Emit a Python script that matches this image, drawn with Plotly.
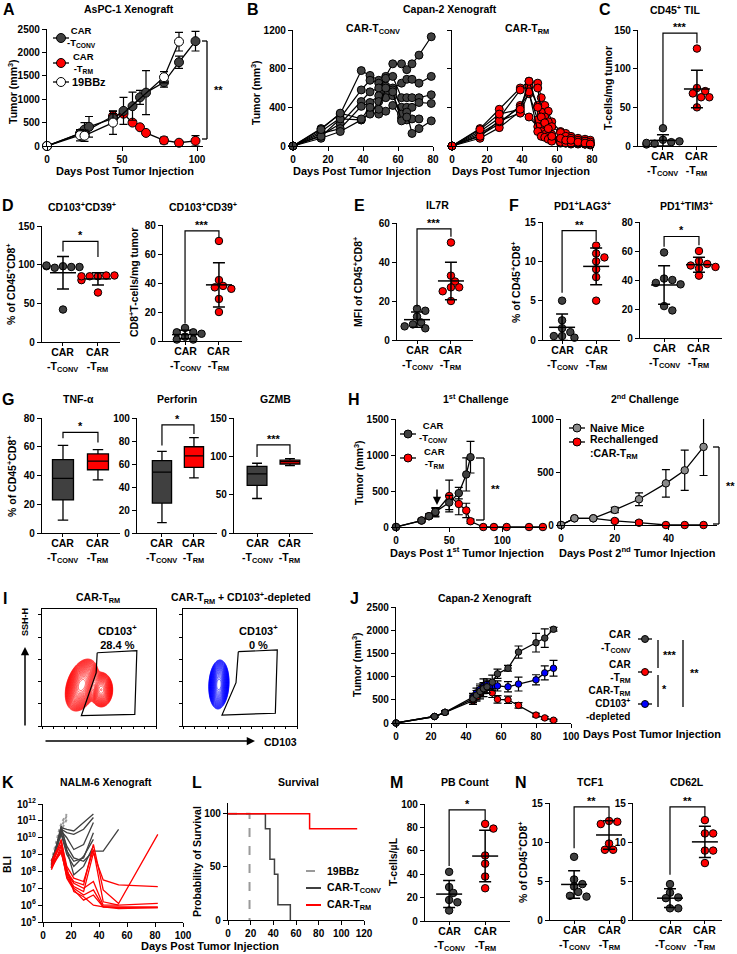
"""CAR-T multi-panel figure rebuilt in plotly.

Every panel is a pair of hand-placed axes (pixel boxes -> paper domains);
legends, brackets and labels are paper-space shapes/annotations.
"""
import numpy as np
import plotly.graph_objects as go

W, H = 737, 954
FONT = "Liberation Sans, Arial, sans-serif"
DARK = "#404040"
RED = "#ff0000"
GRAY = "#8a8a8a"
BLUE = "#0000ff"
CATS = ["CAR<br>-T<sub>CONV</sub>", "CAR<br>-T<sub>RM</sub>"]
MM3 = "Tumor (mm<sup>3</sup>)"
PCT = "% of CD45<sup>+</sup>CD8<sup>+</sup>"

# ---------------- A: AsPC-1 xenograft (mean +/- SEM)
A_DAYS_CONV = [0, 22, 25, 28, 44, 51, 57, 62, 66, 78, 88, 99]
A_CONV = [0, 270, 350, 410, 590, 750, 850, 1040, 1140, 1360, 1790, 2240]
A_CONV_ERR = [0, 60, 150, 220, 100, 290, 300, 150, 470, 100, 130, 210]
A_DAYS_TRM = [0, 22, 25, 44, 51, 57, 62, 66, 78, 88, 99]
A_TRM = [0, 250, 300, 640, 690, 500, 400, 280, 120, 70, 110]
A_TRM_ERR = [0, 50, 80, 100, 60, 40, 40, 40, 70, 40, 110]
A_DAYS_19 = [0, 22, 25, 44, 78, 88]
A_19 = [0, 230, 220, 500, 1470, 2230]
A_19_ERR = [0, 120, 120, 250, 120, 200]

# ---------------- B: Capan-2 individual mice
B_DAYS_CONV = [0, 16, 27, 39, 44, 49, 53, 57, 62, 65, 68, 72, 79]
B_CONV = [
    [0, 180, 330, 780, 730, 680, 720, 850, 850, 790, 850, 940, 1130],
    [0, 150, 290, 580, 680, 650, 620, 600, 650, 690, 690, 650, 720],
    [0, 110, 230, 460, 560, 600, 700, 720, 500, 500, 500, 500, 530],
    [0, 130, 180, 410, 450, 520, 560, 580, 400, 400, 400, 450, 440],
    [0, 80, 150, 270, 350, 330, 360, 420, 290, 270, 280, 280, None],
    [0, 100, 280, 270, 330, 460, 500, 520, 330, 350, 130, 180, 260],
    [0, 170, 340, 280, 400, 380, 600, 560, 260, 300, None, None, None],
]
B_DAYS_TRM = [0, 16, 27, 39, 44, 49, 51, 53, 55, 57, 62, 65, 68, 72, 76, 79]
B_TRM = [
    [0, 180, 380, 600, 670, 650, 500, 420, 360, 250, 150, 130, 100, 80, 70, 60],
    [0, 150, 290, 580, 620, 420, 330, 280, 200, 120, 80, 60, 50, 40, 50, 30],
    [0, 110, 230, 420, 540, 270, 200, 150, 110, 90, 50, 40, 40, 30, 20, 20],
    [0, 80, 190, 360, 300, 200, 150, 120, 100, 60, 30, 30, 20, 20, 20, 10],
    [0, 130, 250, 400, 620, 600, 350, 300, 250, 200, 140, 100, 80, 60, 50, 40],
    [0, 100, 260, 340, 560, 150, 100, 90, 70, 50, 40, 30, 30, 30, 20, 20],
    [0, 170, 330, 380, 670, 400, 300, 240, 180, 100, 80, 60, 60, 40, 30, 20],
]

# ---------------- C-F, M, N: per-mouse values [CONV, TRM]
C_TIL = ([23, 8, 5, 3, 6, 2, 4], [126, 75, 71, 68, 63, 63, 50])
D_PCT = ([98, 97, 96, 97, 98, 99, 42], [85, 86, 85, 86, 80, 64, 85])
D_ABS = ([9, 6, 6, 5, 3, 1, 1], [69, 42, 38, 37, 36, 29, 20])
E_IL7R = ([16, 15, 12, 9, 8, 6, 7], [50, 33, 30, 27, 27, 25, 20])
F_LAG3 = ([5, 2.5, 1.5, 1, 0.5, 0.5, 0.3], [12, 11, 10.5, 10, 9, 8, 5])
F_TIM3 = ([59, 41, 40, 38, 37, 22, 19], [60, 53, 51, 50, 49, 48, 43])
M_PB = ([42, 29, 24, 18, 16, 9], [83, 79, 56, 49, 38, 28])
N_TCF1 = ([8.1, 5.2, 4.6, 4.3, 3.6, 3.1, 3.0], [12.7, 12.6, 12.3, 9.8, 9.0, 9.0])
N_CD62L = ([4.6, 3.5, 2.9, 2.8, 1.5, 1.5], [12.8, 11.1, 11.1, 8.9, 8.9, 7.3])

# ---------------- G: box stats (min, q1, median, q3, max)
G_TNF = ([9, 23, 38, 51, 61], [37, 44, 50, 55, 58])
G_PERF = ([9, 26, 53, 63, 71], [48, 57, 67, 75, 83])
G_GZMB = ([45, 62, 77, 87, 91], [88, 90, 93, 95, 97])

# ---------------- H: rechallenge
H1_DAYS_CONV = [0, 24, 31, 37, 50, 59, 66, 70]
H1_CONV = [0, 90, 150, 210, 340, 470, 730, 970]
H1_CONV_ERR = [0, 20, 30, 60, 100, 80, 230, 220]
H1_DAYS_TRM = [0, 24, 31, 37, 50, 59, 66, 70, 82, 92, 104, 125, 138]
H1_TRM = [0, 90, 150, 200, 430, 320, 230, 80, 0, 0, 0, 0, 0]
H1_TRM_ERR = [0, 20, 30, 60, 220, 150, 100, 30, 0, 0, 0, 0, 0]
H2_DAYS = [0, 5, 12, 20, 29, 39, 46, 53]
H2_NAIVE = [0, 63, 63, 142, 243, 393, 516, 737]
H2_NAIVE_ERR = [0, 0, 0, 25, 60, 130, 190, 270]
H2_RECH = [0, 63, 63, 38, 22, 0, 0, 0]
H2_RECH_ERR = [0, 0, 0, 15, 20, 0, 0, 0]

# ---------------- I: flow density lobes (x, y, sd_x, sd_y, weight, rho), gates
I_RED_LOBES = [(35, 35, 4.6, 7.0, 1.0, 0.35), (52, 31, 3.4, 5.0, 0.5, 0.0)]
I_BLUE_LOBES = [(31.5, 35.5, 2.8, 6.6, 1.0, 0.1)]
I_GATE_L = ([48.4, 83.2, 81.4, 34.5, 47.5, 48.4], [62.6, 64.4, 10, 8.8, 45.3, 62.6])
I_GATE_R = ([48.5, 82.7, 81.0, 34.2, 46.5, 48.5], [63.5, 65, 10.9, 9.4, 37, 63.5])

# ---------------- J: Capan-2 with CD103-depletion
J_DAYS = [0, 22, 28, 44, 46, 48, 50, 52, 55, 58, 64, 70, 80, 85, 90]
J_CONV = [0, 140, 230, 520, 600, 680, 740, 780, 880, 1060, 1180, 1530, 1730, 1830, 2020]
J_CONV_ERR = [0, 20, 30, 80, 100, 120, 100, 130, 150, 100, 60, 130, 200, 200, 40]
J_TRM = [0, 140, 230, 480, 560, 640, 720, 770, 650, 510, 500, 380, 170, 110, 60]
J_TRM_ERR = [0, 20, 30, 80, 90, 120, 150, 130, 100, 80, 80, 60, 40, 30, 20]
J_DEP = [0, 140, 230, 560, 650, 720, 790, 830, 800, 800, 780, 840, 930, 1080, 1180]
J_DEP_ERR = [0, 20, 30, 80, 100, 120, 160, 120, 100, 110, 110, 150, 110, 150, 170]

# ---------------- K: NALM-6 BLI, log10 photons per mouse
K_DAYS_19 = [6, 8, 10, 12, 14, 17]
K_19 = [[8.4, 9.0, 9.7, 10.3, 10.8, 11.3],
        [8.2, 8.8, 9.4, 10.1, 10.6, 11.1],
        [8.6, 9.3, 10.0, 10.6, 11.0, 11.4]]
K_DAYS_CONV = [6, 13, 17, 22, 29, 36, 43, 54]
K_CONV = [[8.3, 10.6, 10.5, 10.4, 10.9, 11.4, None, None],
          [8.2, 10.5, 10.3, 10.2, 10.5, 11.2, None, None],
          [8.5, 10.4, 10.0, 9.3, 9.6, 10.9, None, None],
          [8.2, 10.3, 9.2, 8.6, 8.8, 10.3, None, None],
          [8.4, 10.5, 9.5, 8.8, 8.6, 9.2, 9.2, 10.5],
          [8.6, 10.2, 9.0, 8.3, 8.9, 9.9, None, None],
          [8.3, 10.7, 9.3, 7.8, 8.3, 9.5, None, None]]
K_DAYS_TRM = [6, 13, 17, 22, 29, 36, 43, 54, 82]
K_TRM = [[8.2, 9.9, 8.0, 7.4, 7.2, 9.6, 6.9, 6.1, 10.2],
         [8.5, 9.6, 7.8, 7.1, 6.8, 9.1, 7.5, 7.2, 7.1],
         [8.3, 9.3, 7.6, 6.9, 6.3, 6.6, 5.9, 5.8, 5.85],
         [8.4, 9.1, 7.9, 7.3, 7.0, 7.4, 6.0, 6.0, 6.1],
         [8.1, 9.5, 8.2, 6.8, 6.5, 6.0, 5.9, 5.9, 5.9],
         [8.6, 9.8, 8.3, 7.6, 7.4, 9.3, 6.2, 6.0, None],
         [8.2, 9.2, 7.7, 7.0, 6.6, 6.9, 5.9, 5.85, 5.85]]
K_EXPONENTS = [5, 6, 7, 8, 9, 10, 11, 12]

# ---------------- L: survival (Kaplan-Meier steps)
L_TIME_19, L_SURV_19 = [0, 19], [100, 0]
L_TIME_CONV = [0, 33, 37, 41, 44, 55]
L_SURV_CONV = [100, 85.7, 57.1, 42.9, 14.3, 0]
L_TIME_TRM, L_SURV_TRM = [0, 72, 114], [100, 85.7, 85.7]

# =====================================================================
fig = go.Figure()
shapes, annos = [], []
TFONT = dict(family=FONT, size=10, color="black", weight="bold")
AX = dict(showline=True, linecolor="black", linewidth=1.3, ticks="outside",
          ticklen=4, tickwidth=1.3, tickcolor="black", showgrid=False,
          zeroline=False, automargin=False, tickfont=TFONT)
SCALE = {}
_n = [0]


def axes(x0, x1, y0, y1, xr, yr, xa=None, ya=None):
    """Axis pair occupying pixel box x0..x1, y0(top)..y1(bottom)."""
    _n[0] += 1
    s = "" if _n[0] == 1 else str(_n[0])
    xd = dict(AX, domain=[x0 / W, x1 / W], range=xr, anchor="y" + s)
    yd = dict(AX, domain=[1 - y1 / H, 1 - y0 / H], range=yr, anchor="x" + s)
    xd.update(xa or {})
    yd.update(ya or {})
    fig.update_layout({"xaxis" + s: xd, "yaxis" + s: yd})
    SCALE["x" + s] = ((x1 - x0) / (xr[1] - xr[0]), (y1 - y0) / (yr[1] - yr[0]), y1)
    return "x" + s, "y" + s


def text(x, y, t, size=10.5, xanchor="center", align="center", angle=0):
    annos.append(dict(x=x / W, y=1 - y / H, xref="paper", yref="paper", text=t,
                      showarrow=False, xanchor=xanchor, yanchor="middle",
                      align=align, textangle=angle,
                      font=dict(family=FONT, size=size, color="black", weight="bold")))


def ytext(x, y, t):
    text(x, y, t, 10.5, angle=-90)


def xtext(x, y, t):
    text(x, y, t, 11)


def pline(x0, y0, x1, y1, color="black", width=1.3, dash=None):
    shapes.append(dict(type="line", xref="paper", yref="paper", x0=x0 / W, x1=x1 / W,
                       y0=1 - y0 / H, y1=1 - y1 / H,
                       line=dict(color=color, width=width, dash=dash)))


def pdot(x, y, color, r=4):
    shapes.append(dict(type="circle", xref="paper", yref="paper",
                       x0=(x - r) / W, x1=(x + r) / W, y0=1 - (y + r) / H, y1=1 - (y - r) / H,
                       fillcolor=color, line=dict(color="black", width=1)))


def parrow(x, y, ax, ay):
    annos.append(dict(x=x / W, y=1 - y / H, xref="paper", yref="paper", text="",
                      showarrow=True, ax=ax, ay=ay, arrowhead=2, arrowsize=1.1,
                      arrowwidth=1.5, arrowcolor="black"))


def pbracket(x, y0, y1, stars, tick=5):
    pline(x, y0, x, y1)
    pline(x - tick, y0, x, y0)
    pline(x - tick, y1, x, y1)
    text(x + 11, (y0 + y1) / 2, stars, size=11)


def catlabels(xr):
    ybot = SCALE[xr][2]
    for i, t in enumerate(CATS):
        annos.append(dict(x=i, xref=xr, y=1 - (ybot + 2) / H, yref="paper", text=t,
                          showarrow=False, yanchor="top",
                          font=dict(family=FONT, size=10.5, color="black", weight="bold")))


def swarm(vals, ky, d):
    placed, offs = [], []
    for v in vals:
        y = v * ky
        for k in (0, 1, -1, 2, -2, 3, -3, 4, -4):
            x = k * d * 0.55
            if all((x - a) ** 2 + (y - b) ** 2 >= (0.9 * d) ** 2 for a, b in placed):
                break
        placed.append((x, y))
        offs.append(x)
    return offs


def dots(xr, yr, groups, size=7.5):
    kx, ky, _ = SCALE[xr]
    for i, vals in enumerate(groups):
        xs = [i + o / kx for o in swarm(vals, ky, size)]
        fig.add_scatter(x=xs, y=vals, xaxis=xr, yaxis=yr, mode="markers", cliponaxis=False,
                        marker=dict(size=size, color=DARK if i == 0 else RED,
                                    line=dict(color="black", width=1)))
        m, sd = float(np.mean(vals)), float(np.std(vals, ddof=1))
        fig.add_scatter(x=[i - 13 / kx, i + 13 / kx], y=[m, m], xaxis=xr, yaxis=yr,
                        mode="lines", line=dict(color="black", width=1.5))
        fig.add_scatter(x=[i], y=[m], xaxis=xr, yaxis=yr, mode="markers",
                        marker=dict(size=1, color="rgba(0,0,0,0)"),
                        error_y=dict(type="data", array=[sd], width=6, thickness=1.5,
                                     color="black"))
    catlabels(xr)


def boxes(xr, yr, groups):
    for i, (lo, q1, med, q3, hi) in enumerate(groups):
        fig.add_box(x=[i], lowerfence=[lo], q1=[q1], median=[med], q3=[q3],
                    upperfence=[hi], xaxis=xr, yaxis=yr, width=0.6, whiskerwidth=0.5,
                    boxpoints=False, fillcolor=DARK if i == 0 else RED,
                    line=dict(color="black", width=1.3))
    catlabels(xr)


def bracket(xr, yr, ytop, yl, yrt, stars):
    shapes.append(dict(type="path", xref=xr, yref=yr,
                       path=f"M 0,{yl} L 0,{ytop} L 1,{ytop} L 1,{yrt}",
                       line=dict(color="black", width=1.2)))
    annos.append(dict(x=0.5, y=ytop, xref=xr, yref=yr, text=stars, showarrow=False,
                      yanchor="bottom", yshift=-2,
                      font=dict(family=FONT, size=11, color="black", weight="bold")))


def series(xr, yr, x, y, err, fill, size=8):
    fig.add_scatter(x=x, y=y, xaxis=xr, yaxis=yr, mode="lines+markers", cliponaxis=False,
                    line=dict(color="black", width=1.3),
                    marker=dict(size=size, color=fill, line=dict(color="black", width=1)),
                    error_y=dict(type="data", array=err, width=4, thickness=1.2,
                                 color="black"))


CAT = dict(tickvals=[0, 1], showticklabels=False, ticklen=3)
DAYS = "Days Post Tumor Injection"

# ---------------- A
xa, ya = axes(47, 203, 29, 146, [0, 104], [0, 2500], dict(dtick=50), dict(dtick=500))
series(xa, ya, A_DAYS_TRM, A_TRM, A_TRM_ERR, RED, 9)
series(xa, ya, A_DAYS_CONV, A_CONV, A_CONV_ERR, DARK, 9)
series(xa, ya, A_DAYS_19, A_19, A_19_ERR, "white", 9)
pbracket(207, 41, 139, "**")
for yy, fill in ((38, DARK), (63, RED), (82, "white")):
    pline(53, yy, 69, yy)
    pdot(61, yy, fill, 4.5)
text(81, 37, CATS[0], 9.5)
text(83, 63, CATS[1], 9.5)
text(70, 82, "19BBz", 11, xanchor="left")
xtext(125, 171, DAYS)
ytext(12, 92, MM3)
text(129, 9, "AsPC-1 Xenograft")

# ---------------- B
for i, (x0, days, mice, fill) in enumerate(((293, B_DAYS_CONV, B_CONV, DARK),
                                             (452, B_DAYS_TRM, B_TRM, RED))):
    xb, yb = axes(x0, x0 + 140, 30, 146, [0, 80], [0, 1200], dict(dtick=20),
                  dict(dtick=400, showticklabels=(i == 0)))
    for m in mice:
        fig.add_scatter(x=days, y=m, xaxis=xb, yaxis=yb, mode="lines+markers",
                        cliponaxis=False, line=dict(color="black", width=1.2),
                        marker=dict(size=8, color=fill, line=dict(color="black", width=1)))
xtext(362, 171, DAYS)
xtext(521, 171, DAYS)
ytext(255, 92, MM3)
text(450, 9, "Capan-2 Xenograft")
text(373, 29, "CAR-T<sub>CONV</sub>")
text(527, 29, "CAR-T<sub>RM</sub>")

# ---------------- C
xc, yc = axes(638, 717, 30, 146, [-0.735, 1.59], [0, 150], CAT, dict(dtick=50))
dots(xc, yc, C_TIL)
bracket(xc, yc, 146, 27, 133, "***")
ytext(608, 88, "T-cells/mg tumor")
text(675, 10, "CD45<sup>+</sup> TIL")

# ---------------- D
xd, yd = axes(42, 120, 226, 342, [-0.6, 1.63], [0, 150], CAT, dict(dtick=50))
dots(xd, yd, D_PCT)
bracket(xd, yd, 130, 117, 110, "*")
xd2, yd2 = axes(163, 242, 225, 341, [-0.65, 1.68], [0, 80], CAT, dict(dtick=20))
dots(xd2, yd2, D_ABS)
bracket(xd2, yd2, 76, 12, 71, "***")
ytext(10, 284, PCT)
ytext(133, 283, "CD8<sup>+</sup>T-cells/mg tumor")
text(82, 206, "CD103<sup>+</sup>CD39<sup>+</sup>")
text(203, 206, "CD103<sup>+</sup>CD39<sup>+</sup>")

# ---------------- E
xe, ye = axes(397, 473, 223, 340, [-0.59, 1.65], [0, 60], CAT, dict(dtick=20))
dots(xe, ye, E_IL7R)
bracket(xe, ye, 57, 17, 53, "***")
ytext(358, 282, "MFI of CD45<sup>+</sup>CD8<sup>+</sup>")
text(437, 205, "IL7R")

# ---------------- F
xf, yf = axes(543, 620, 222, 340, [-0.56, 1.7], [0, 15], CAT, dict(dtick=5))
dots(xf, yf, F_LAG3)
bracket(xf, yf, 13.9, 6, 12.6, "**")
xf2, yf2 = axes(640, 722, 222, 338, [-0.69, 1.66], [0, 80], CAT, dict(dtick=20))
dots(xf2, yf2, F_TIM3)
bracket(xf2, yf2, 70, 63, 64, "*")
ytext(516, 282, PCT)
text(582, 205, "PD1<sup>+</sup>LAG3<sup>+</sup>")
text(686, 205, "PD1<sup>+</sup>TIM3<sup>+</sup>")

# ---------------- G
xg, yg = axes(42, 120, 418, 533, [-0.6, 1.63], [0, 80], CAT, dict(dtick=20))
boxes(xg, yg, G_TNF)
bracket(xg, yg, 70, 66, 63, "*")
xg2, yg2 = axes(137, 217, 418, 533, [-0.78, 1.72], [0, 100], CAT, dict(dtick=20))
boxes(xg2, yg2, G_PERF)
bracket(xg2, yg2, 94, 76, 86, "*")
xg3, yg3 = axes(234, 313, 418, 533, [-0.7, 1.7], [0, 150], CAT, dict(dtick=50))
boxes(xg3, yg3, G_GZMB)
bracket(xg3, yg3, 115, 99, 103, "***")
ytext(11, 476, PCT)
text(78, 399, "TNF-α")
text(177, 399, "Perforin")
text(275, 399, "GZMB")

# ---------------- H
xh, yh = axes(396, 545, 419, 527, [0, 140], [0, 1500], dict(dtick=50), dict(dtick=500))
series(xh, yh, H1_DAYS_TRM, H1_TRM, H1_TRM_ERR, RED, 7.5)
series(xh, yh, H1_DAYS_CONV, H1_CONV, H1_CONV_ERR, DARK, 7.5)
pbracket(484, 458, 520, "**", 8)
parrow(437, 505, 0, -17)
pline(400, 434, 416, 434)
pdot(408, 434, DARK)
pline(400, 458, 416, 458)
pdot(408, 458, RED)
text(433, 432, CATS[0], 9.5)
text(434, 458, CATS[1], 9.5)
xh2, yh2 = axes(561, 717, 419, 525, [0, 58], [0, 1000], dict(dtick=20), dict(dtick=500))
series(xh2, yh2, H2_DAYS, H2_RECH, H2_RECH_ERR, RED, 7.5)
series(xh2, yh2, H2_DAYS, H2_NAIVE, H2_NAIVE_ERR, GRAY, 7.5)
pbracket(719, 447, 524, "**", 6)
pline(569, 428, 585, 428)
pdot(577, 428, GRAY)
pline(569, 442, 585, 442)
pdot(577, 442, RED)
text(588, 428, "Naive Mice", 10.5, xanchor="left")
text(588, 447, "Rechallenged<br>:CAR-T<sub>RM</sub>", 10.5, xanchor="left", align="left")
xtext(467, 552, "Days Post 1<sup>st</sup> Tumor Injection")
xtext(637, 552, "Days Post 2<sup>nd</sup> Tumor Injection")
ytext(359, 473, MM3)
text(476, 398, "1<sup>st</sup> Challenge")
text(645, 398, "2<sup>nd</sup> Challenge")

# ---------------- I
I_GRID = np.linspace(0, 100, 161)


def density(lobes):
    gx, gy = np.meshgrid(I_GRID, I_GRID)
    z = np.zeros_like(gx)
    for cx, cy, sx, sy, w, rho in lobes:
        u, v = (gx - cx) / sx, (gy - cy) / sy
        z += w * np.exp(-(u * u - 2 * rho * u * v + v * v) / (2 * (1 - rho * rho)))
    return np.log10(np.maximum(z / z.max(), 1e-6))


FLOW_X = dict(showticklabels=False, mirror=True, dtick=10, ticklen=2, tickwidth=1)
FLOW_Y = dict(showticklabels=False, mirror=True, tick0=0, dtick=19, ticklen=3, tickwidth=1)
for x0, lobes, gate, col in ((42, I_RED_LOBES, I_GATE_L, RED), (183, I_BLUE_LOBES, I_GATE_R, BLUE)):
    xi, yi = axes(x0, x0 + 114, 609, 726, [0, 100], [0, 100], FLOW_X, FLOW_Y)
    fig.add_contour(x=I_GRID, y=I_GRID, z=density(lobes), xaxis=xi, yaxis=yi,
                    showscale=False, colorscale=[[0, col], [1, col]],
                    contours=dict(coloring="lines", start=-2.2, end=-0.04, size=0.07),
                    line=dict(width=0.6))
    fig.add_scatter(x=gate[0], y=gate[1], xaxis=xi, yaxis=yi, mode="lines",
                    line=dict(color="black", width=1.2))
text(117, 637, "CD103<sup>+</sup><br>28.4 %", 11)
text(258, 637, "CD103<sup>+</sup><br>0 %", 11)
text(98, 598, "CAR-T<sub>RM</sub>")
text(241, 598, "CAR-T<sub>RM</sub> + CD103<sup>+</sup>-depleted")
parrow(25, 647, 0, 80)
parrow(255, 741, -211, 0)
text(25, 622, "SSH-H", 9, angle=-90)
text(280, 742, "CD103")

# ---------------- J
xj, yj = axes(396, 571, 607, 723, [0, 100], [0, 2500], dict(dtick=20), dict(dtick=500))
series(xj, yj, J_DAYS, J_TRM, J_TRM_ERR, RED, 6.5)
series(xj, yj, J_DAYS, J_DEP, J_DEP_ERR, BLUE, 6.5)
series(xj, yj, J_DAYS, J_CONV, J_CONV_ERR, DARK, 6.5)
xtext(652, 734, DAYS)
ytext(356, 665, MM3)
text(485, 598, "Capan-2 Xenograft")
for yy, fill in ((639, DARK), (672, RED), (704, BLUE)):
    pline(638, yy, 652, yy)
    pdot(645, yy, fill, 3.5)
text(633, 641, CATS[0], 10, xanchor="right", align="right")
text(633, 671, CATS[1], 10, xanchor="right", align="right")
text(633, 703, "CAR-T<sub>RM</sub><br>CD103<sup>+</sup><br>-depleted", 10,
     xanchor="right", align="right")
pline(658, 640, 658, 668)
pline(658, 675, 658, 707)
pline(683, 640, 683, 707)
text(670, 655, "***", 11)
text(664, 689, "*", 11)
text(694, 673, "**", 11)

# ---------------- K
xk, yk = axes(43, 183, 804, 922, [0, 100], [5, 12], dict(dtick=20),
              dict(type="log", tickvals=[10.0 ** e for e in K_EXPONENTS],
                   ticktext=[f"10<sup>{e}</sup>" for e in K_EXPONENTS]))


def bli(row):
    return [None if v is None else 10.0 ** v for v in row]


for row in K_19:
    fig.add_scatter(x=K_DAYS_19, y=bli(row), xaxis=xk, yaxis=yk, mode="lines",
                    line=dict(color="#9a9a9a", width=2, dash="dot"))
for row in K_CONV:
    fig.add_scatter(x=K_DAYS_CONV, y=bli(row), xaxis=xk, yaxis=yk, mode="lines",
                    line=dict(color=DARK, width=1.3))
for row in K_TRM:
    fig.add_scatter(x=K_DAYS_TRM, y=bli(row), xaxis=xk, yaxis=yk, mode="lines",
                    line=dict(color=RED, width=1.3))
ytext(7, 865, "BLI")
text(106, 782, "NALM-6 Xenograft")
xtext(210, 946, DAYS)

# ---------------- L
xl, yl = axes(228, 364, 803, 920, [0, 120], [0, 110], dict(dtick=20),
              dict(tickvals=[0, 50, 100]))
fig.add_scatter(x=L_TIME_19, y=L_SURV_19, xaxis=xl, yaxis=yl, mode="lines",
                line=dict(color="#9a9a9a", width=2, dash="dash", shape="hv"))
fig.add_scatter(x=L_TIME_CONV, y=L_SURV_CONV, xaxis=xl, yaxis=yl, mode="lines",
                line=dict(color=DARK, width=1.5, shape="hv"))
fig.add_scatter(x=L_TIME_TRM, y=L_SURV_TRM, xaxis=xl, yaxis=yl, mode="lines",
                line=dict(color=RED, width=1.5, shape="hv"))
for yy, col, dash, lab in ((871, "#9a9a9a", "dash", "19BBz"),
                           (888, DARK, None, "CAR-T<sub>CONV</sub>"),
                           (905, RED, None, "CAR-T<sub>RM</sub>")):
    pline(306, yy, 321, yy, col, 2, dash)
    text(325, yy, lab, 10.5, xanchor="left")
ytext(197, 862, "Probability of Survival")
text(298, 782, "Survival")

# ---------------- M
xm, ym = axes(425, 510, 804, 921, [-0.67, 1.69], [0, 100], CAT, dict(dtick=20))
dots(xm, ym, M_PB)
bracket(xm, ym, 95, 47, 86, "*")
ytext(393, 862, "T-cells/µL")
text(465, 782, "PB Count")

# ---------------- N
xn, yn = axes(550, 623, 803, 920, [-0.69, 1.4], [0, 15], CAT, dict(dtick=5))
dots(xn, yn, N_TCF1)
bracket(xn, yn, 14.5, 9.2, 12.8, "**")
xn2, yn2 = axes(633, 722, 803, 920, [-1.06, 1.49], [0, 15], CAT, dict(dtick=5))
dots(xn2, yn2, N_CD62L)
bracket(xn2, yn2, 14.5, 5.8, 13.2, "**")
ytext(522, 862, PCT)
text(590, 782, "TCF1")
text(687, 782, "CD62L")

# ---------------- panel letters
for letter, x, y in (("A", 9, 10), ("B", 253, 10), ("C", 605, 10), ("D", 8, 205),
                     ("E", 359, 205), ("F", 514, 205), ("G", 8, 399), ("H", 354, 399),
                     ("I", 5, 598), ("J", 354, 598), ("K", 8, 782), ("L", 197, 782),
                     ("M", 396, 782), ("N", 521, 782)):
    text(x, y, letter, 16)

fig.update_layout(template="none", width=W, height=H, margin=dict(l=0, r=0, t=0, b=0),
                  paper_bgcolor="white", plot_bgcolor="rgba(0,0,0,0)", showlegend=False,
                  font=dict(family=FONT, color="black"), shapes=shapes, annotations=annos)
fig.write_html("out.html", config={"displayModeBar": False},
               post_script="document.body.style.margin='0px';")
